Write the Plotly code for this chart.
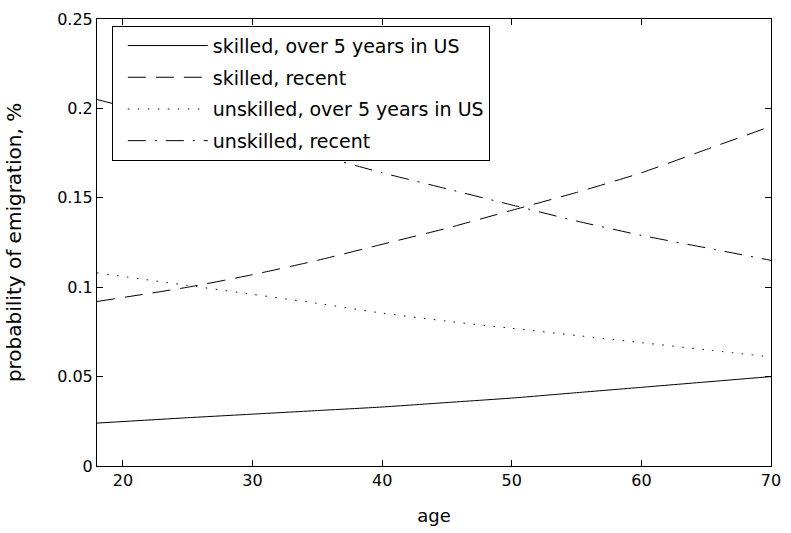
import plotly.graph_objects as go

ages = [18, 25, 30, 35, 40, 45, 50, 55, 60, 65, 70]
skilled_over5 = [0.024, 0.027, 0.029, 0.031, 0.033, 0.0355, 0.038, 0.041, 0.044, 0.047, 0.050]
skilled_recent = [0.092, 0.100, 0.107, 0.115, 0.124, 0.133, 0.143, 0.153, 0.164, 0.177, 0.190]
unskilled_over5 = [0.108, 0.101, 0.096, 0.091, 0.0855, 0.081, 0.077, 0.073, 0.069, 0.065, 0.061]
unskilled_recent = [0.205, 0.192, 0.184, 0.174, 0.164, 0.155, 0.146, 0.137, 0.129, 0.122, 0.115]

names = ["skilled, over 5 years in US", "skilled, recent",
         "unskilled, over 5 years in US", "unskilled, recent"]
series = [skilled_over5, skilled_recent, unskilled_over5, unskilled_recent]
dashes = ["solid", "18px,10px", "1.5px,8.5px", "18px,9px,2px,9px"]

x_ticks = [20, 30, 40, 50, 60, 70]
y_ticks = [0, 0.05, 0.1, 0.15, 0.2, 0.25]
y_labels = ["0", "0.05", "0.1", "0.15", "0.2", "0.25"]

FONT = "DejaVu Sans, sans-serif"

fig = go.Figure()
for i, (nm, ys, ds) in enumerate(zip(names, series, dashes)):
    fig.add_trace(go.Scatter(
        x=ages, y=ys, mode="lines", name=nm, legendgroup=f"g{i}",
        line=dict(color="black", width=1, dash=ds, shape="spline", smoothing=0.6),
    ))

fig.update_layout(
    width=791, height=533,
    margin=dict(l=97, r=10, t=13, b=64),
    paper_bgcolor="white", plot_bgcolor="white",
    font=dict(family=FONT, size=16, color="black"),
    showlegend=True,
    legend=dict(
        x=0.022, y=0.985, xanchor="left", yanchor="top",
        bordercolor="black", borderwidth=1, bgcolor="white",
        font=dict(family=FONT, size=19, color="black"),
        itemwidth=80, tracegroupgap=4, indentation=10,
    ),
    xaxis=dict(
        range=[18, 70], tickvals=x_ticks, ticks="inside", ticklen=6,
        tickcolor="black", showline=True, linecolor="black", linewidth=1,
        mirror="ticks", showgrid=False, zeroline=False,
        title=dict(text="age", standoff=20, font=dict(size=18)),
        tickfont=dict(family=FONT, size=16),
    ),
    yaxis=dict(
        range=[0, 0.25], tickvals=y_ticks, ticktext=y_labels, ticks="inside",
        ticklen=6, tickcolor="black", showline=True, linecolor="black",
        linewidth=1, mirror="ticks", showgrid=False, zeroline=False,
        title=dict(text="probability of emigration, %", standoff=30, font=dict(size=20)),
        tickfont=dict(family=FONT, size=16),
    ),
)

fig.write_html("out.html")
